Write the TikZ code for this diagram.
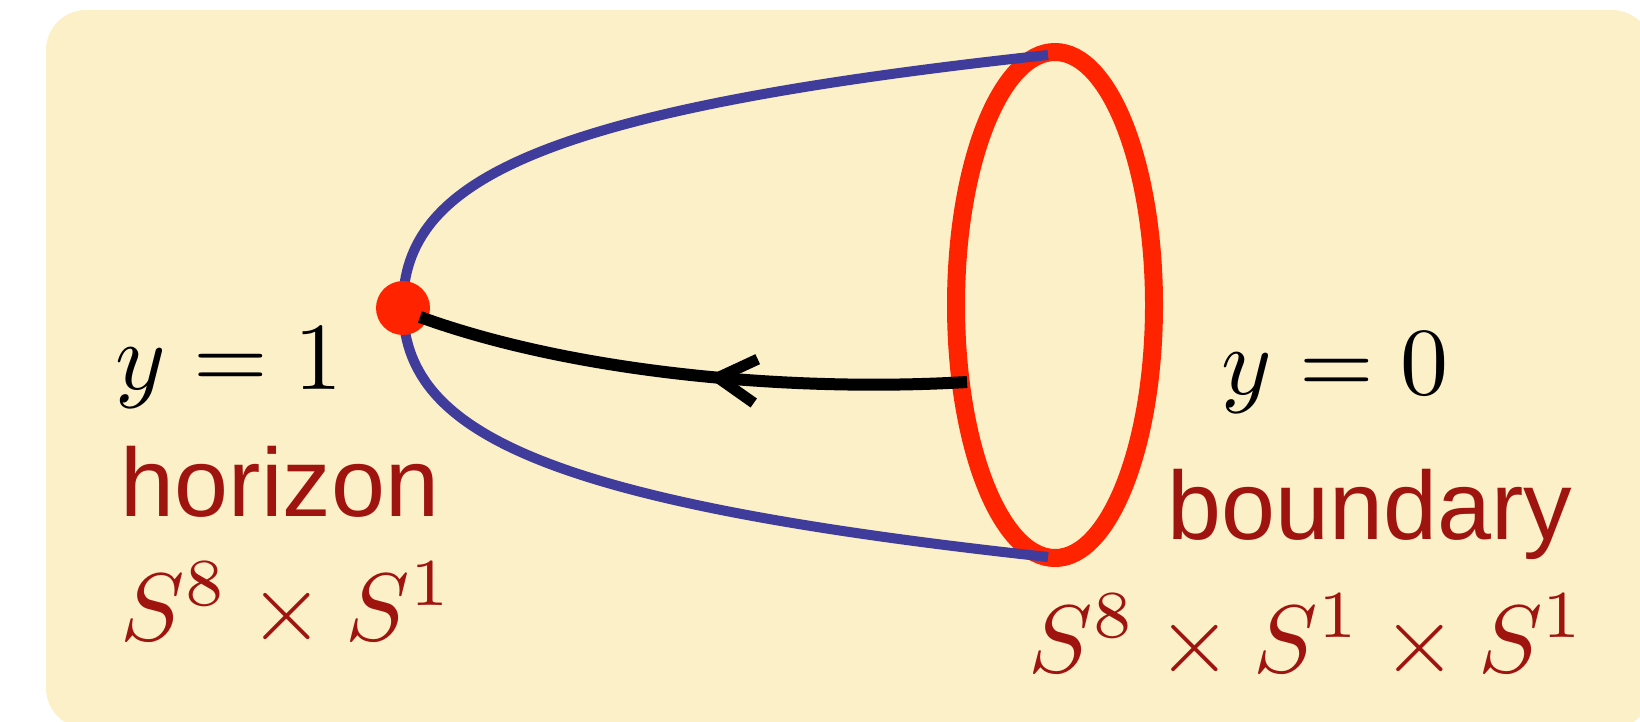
\documentclass[tikz,border=0pt]{standalone}
\usepackage{fontspec}
\setsansfont{Liberation Sans}
\usetikzlibrary{decorations.markings}
\definecolor{bg}{RGB}{251,240,200}
\definecolor{lbl}{RGB}{160,20,16}
\definecolor{hred}{RGB}{255,35,0}
\definecolor{hblue}{RGB}{64,60,155}
\begin{document}
\begin{tikzpicture}[x=1pt,y=-1pt,
  lbltext/.style={font=\sffamily, text=lbl, scale=9.7, inner sep=0pt, anchor=base west},
  mathtext/.style={scale=9.6, inner sep=0pt, anchor=base west},
  rim/.style={hred, line width=18},
  horizonline/.style={hblue, line width=10},
  flow/.style={black, line width=12,
    postaction={decorate, decoration={markings,
      mark=at position 0.45 with {\draw[black, line width=11, line join=miter] (-38,-22) -- (0,0) -- (-38,22);}}}},
]
\useasboundingbox (0,0) rectangle (1640,721);
\clip (0,0) rectangle (1640,721);
\fill[bg, rounded corners=40] (46,10) rectangle (1652,728);

% boundary circle
\draw[rim] (1055,305) ellipse [x radius=99, y radius=253];

% horizon curve
\draw[horizonline] (1048,55) .. controls (540,110) and (403,180) .. (403,306)
   .. controls (403,432) and (540,502) .. (1048,557);

% horizon point
\node[circle, fill=hred, minimum size=54, inner sep=0pt] (dot) at (403,308) {};

% flow
\coordinate (e) at (967,382);
\coordinate (a) at (420,317);
\draw[flow] (e) .. controls (800,392) and (580,375) .. (a);

% labels
\node[mathtext] (y1) at (114,389) {$y=1$};
\node[lbltext] (hor) at (119,516) {horizon};
\node[mathtext, text=lbl] (hs) at (119,640) {$S^8\times S^1$};
\node[mathtext] (y0) at (1220,394) {$y=0$};
\node[lbltext] (bd) at (1166,539) {boundary};
\node[mathtext, text=lbl] (bs) at (1027,672) {$S^8\times S^1\times S^1$};
\end{tikzpicture}
\end{document}
